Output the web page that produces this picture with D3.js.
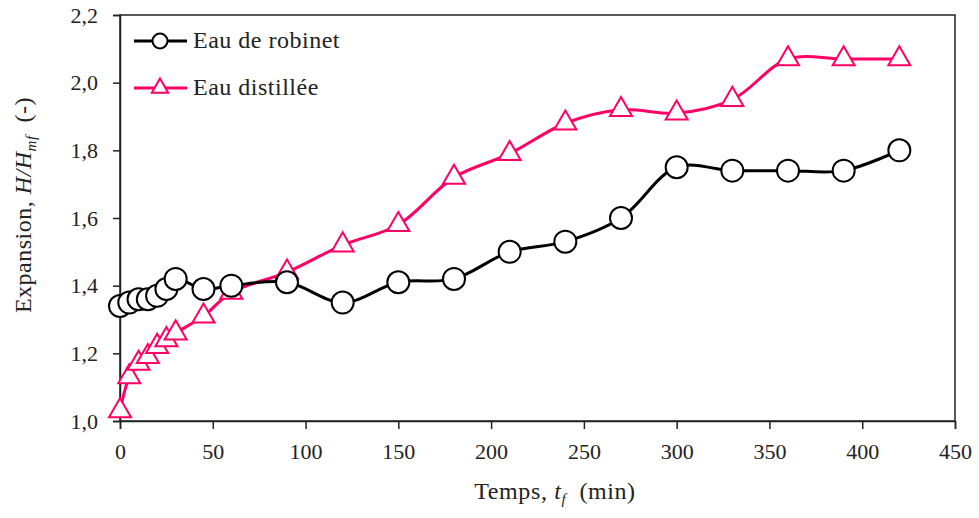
<!DOCTYPE html>
<html>
<head>
<meta charset="utf-8">
<script src="https://cdn.jsdelivr.net/npm/d3@7"></script>
<style>
  body { margin: 0; background: #fff; }
  svg text { font-family: 'Liberation Serif', 'DejaVu Serif', serif !important; }
</style>
</head>
<body>
<div id="chart"></div>
<script>
// temps (min)
var temps = [0, 5, 10, 15, 20, 25, 30, 45, 60, 90, 120, 150, 180, 210, 240, 270, 300, 330, 360, 390, 420];
// H/Hmf
var robinet = [1.34, 1.35, 1.36, 1.36, 1.37, 1.39, 1.42, 1.39, 1.40, 1.41, 1.35, 1.41, 1.42, 1.50, 1.53, 1.60, 1.75, 1.74, 1.74, 1.74, 1.80];
var distillee = [1.03, 1.13, 1.17, 1.19, 1.22, 1.24, 1.26, 1.31, 1.38, 1.44, 1.52, 1.58, 1.72, 1.79, 1.88, 1.92, 1.91, 1.95, 2.07, 2.07, 2.07];
var xTicks = [0, 50, 100, 150, 200, 250, 300, 350, 400, 450];
var yTicks = [1.0, 1.2, 1.4, 1.6, 1.8, 2.0, 2.2];

var FONT = "'Liberation Serif', 'DejaVu Serif', serif";
var width = 979, height = 518;
var margin = {top: 15, right: 24, bottom: 97, left: 120};
var w = width - margin.left - margin.right,
    h = height - margin.top - margin.bottom;

var svg = d3.select("#chart").append("svg")
    .attr("width", width)
    .attr("height", height)
    .style("font-family", FONT);

var g = svg.append("g")
    .attr("transform", "translate(" + margin.left + "," + margin.top + ")");

var x = d3.scaleLinear().domain([0, 450]).range([0, w]);
var y = d3.scaleLinear().domain([1.0, 2.2]).range([h, 0]);

var fmt = function(d) { return d3.format(".1f")(d).replace(".", ","); };

// frame
g.append("rect")
    .attr("width", w).attr("height", h)
    .attr("fill", "none").attr("stroke", "#222").attr("stroke-width", 1.5);

var xAxis = g.append("g")
    .attr("transform", "translate(0," + h + ")")
    .call(d3.axisBottom(x).tickValues(xTicks).tickSize(8).tickPadding(14));
var yAxis = g.append("g")
    .call(d3.axisLeft(y).tickValues(yTicks).tickSize(7).tickPadding(15).tickFormat(fmt));

[xAxis, yAxis].forEach(function(a) {
    a.attr("font-family", null).attr("font-size", 22);
    a.select(".domain").attr("stroke", "#222").attr("stroke-width", 1.5);
    a.selectAll(".tick line").attr("stroke", "#222").attr("stroke-width", 1.5);
    a.selectAll(".tick text").attr("fill", "#222").style("font-size", "22px");
});

var line = d3.line()
    .x(function(d) { return x(d[0]); })
    .y(function(d) { return y(d[1]); })
    .curve(d3.curveCatmullRom.alpha(0.5));

var s1 = temps.map(function(t, i) { return [t, robinet[i]]; });
var s2 = temps.map(function(t, i) { return [t, distillee[i]]; });

var pink = "#ff0066";
var tri = d3.symbol().type(d3.symbolTriangle).size(210);
var triSmall = d3.symbol().type(d3.symbolTriangle).size(115);

// distillee
g.append("path").datum(s2)
    .attr("d", line).attr("fill", "none")
    .attr("stroke", pink).attr("stroke-width", 3);
g.selectAll(".tri").data(s2).enter().append("path")
    .attr("class", "tri")
    .attr("d", tri)
    .attr("transform", function(d) { return "translate(" + x(d[0]) + "," + y(d[1]) + ")"; })
    .attr("fill", "#fff").attr("stroke", pink).attr("stroke-width", 2);

// robinet
g.append("path").datum(s1)
    .attr("d", line).attr("fill", "none")
    .attr("stroke", "#000").attr("stroke-width", 3);
g.selectAll(".circ").data(s1).enter().append("circle")
    .attr("class", "circ")
    .attr("cx", function(d) { return x(d[0]); })
    .attr("cy", function(d) { return y(d[1]); })
    .attr("r", 11)
    .attr("fill", "#fff").attr("stroke", "#000").attr("stroke-width", 2);

// legend
var leg = svg.append("g").attr("transform", "translate(134,41)");
leg.append("line").attr("x1", 0).attr("x2", 53).attr("y1", 0).attr("y2", 0)
    .attr("stroke", "#000").attr("stroke-width", 3);
leg.append("circle").attr("cx", 26).attr("cy", 0).attr("r", 7.5)
    .attr("fill", "#fff").attr("stroke", "#000").attr("stroke-width", 2);
leg.append("text").attr("x", 59).attr("y", 7).style("font-size", "24px")
    .attr("letter-spacing", 0.5).attr("fill", "#222").text("Eau de robinet");

leg.append("line").attr("x1", 0).attr("x2", 53).attr("y1", 47).attr("y2", 47)
    .attr("stroke", pink).attr("stroke-width", 3);
leg.append("path").attr("d", triSmall).attr("transform", "translate(26,47)")
    .attr("fill", "#fff").attr("stroke", pink).attr("stroke-width", 2);
leg.append("text").attr("x", 59).attr("y", 54).style("font-size", "24px")
    .attr("letter-spacing", 0.5).attr("fill", "#222").text("Eau distillée");

// axis titles
var xt = svg.append("text")
    .attr("x", 555).attr("y", 499)
    .attr("text-anchor", "middle").style("font-size", "24px")
    .attr("letter-spacing", 0.6).attr("fill", "#222");
xt.append("tspan").text("Temps, ");
xt.append("tspan").style("font-style", "italic").text("t");
xt.append("tspan").style("font-style", "italic").style("font-size", "15px").attr("dy", 5).text("f");
xt.append("tspan").attr("dy", -5).text("\u00a0 (min)");

var yt = svg.append("text")
    .attr("transform", "translate(31,205) rotate(-90)")
    .attr("text-anchor", "middle").style("font-size", "24px")
    .attr("letter-spacing", 0.5).attr("fill", "#222");
yt.append("tspan").text("Expansion, ");
yt.append("tspan").style("font-style", "italic").text("H/H");
yt.append("tspan").style("font-style", "italic").style("font-size", "15px").attr("dy", 5).text("mf");
yt.append("tspan").attr("dy", -5).text("\u00a0 (-)");
</script>
</body>
</html>
